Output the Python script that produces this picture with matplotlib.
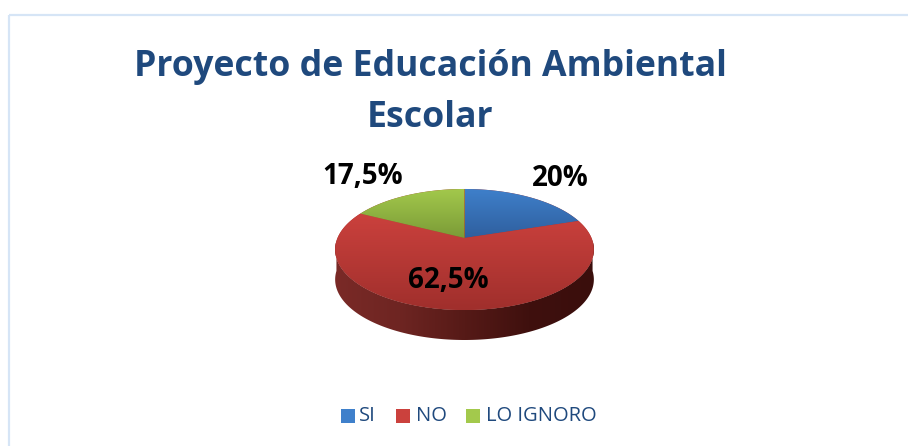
import numpy as np
import matplotlib
matplotlib.use("Agg")
import matplotlib.pyplot as plt
from matplotlib.path import Path
from matplotlib.patches import PathPatch, Rectangle
from matplotlib.colors import LinearSegmentedColormap

categories = ["SI", "NO", "LO IGNORO"]
values = [20.0, 62.5, 17.5]
value_labels = ["20%", "62,5%", "17,5%"]
title_text = "Proyecto de Educación Ambiental\nEscolar"

W, H = 908, 446
fig = plt.figure(figsize=(W / 100, H / 100), dpi=100)
ax = fig.add_axes([0, 0, 1, 1])
ax.set_xlim(0, W)
ax.set_ylim(H, 0)
ax.axis("off")

FONT = ["Open Sans", "DejaVu Sans"]
ax.add_patch(Rectangle((8.5, 14.5), 920, 460, fill=False, ec="#d6e5f6", lw=1.6))

CX, K, A, B, C = 464.5, 127.0, -13.1, 238.0, 0.19
DEPTH = 30


def project(theta):
    u, v = np.sin(theta), np.cos(theta)
    d = 1 + C * v
    return CX + K * u / d, (A * v + B) / d


def fill_gradient(path, colors, horizontal=False):
    vs = path.vertices
    x0, x1, y0, y1 = vs[:, 0].min(), vs[:, 0].max(), vs[:, 1].min(), vs[:, 1].max()
    cmap = LinearSegmentedColormap.from_list("g", colors)
    g = np.linspace(0, 1, 256)
    g = g.reshape(1, -1) if horizontal else g.reshape(-1, 1)
    im = ax.imshow(g, cmap=cmap, extent=(x0, x1, y1, y0), aspect="auto", zorder=2,
                   interpolation="bilinear", vmin=0, vmax=1)
    patch = PathPatch(path, transform=ax.transData, fc="none", ec="none")
    ax.add_patch(patch)
    im.set_clip_path(patch)


# side wall of the front of the pie
th = np.linspace(np.pi / 2 + 0.05, 3 * np.pi / 2 - 0.05, 200)
sx, sy = project(th)
side = np.column_stack([np.r_[sx, sx[::-1]], np.r_[sy, sy[::-1] + DEPTH]])
fill_gradient(Path(np.r_[side, side[:1]], closed=True),
              ["#7a2a27", "#6e2522", "#561a17", "#3f100e", "#3a0e0c"], horizontal=True)

face_colors = {
    "SI": ["#3f80cb", "#2f5f9e"],
    "NO": ["#cb413d", "#a02f2c"],
    "LO IGNORO": ["#a3c94c", "#7b9b37"],
}

# underlay so no white seam shows between the slices
ring_x, ring_y = project(np.linspace(0, 2 * np.pi, 400))
ax.fill(ring_x, ring_y, color="#a8342f", zorder=1.9, lw=0)

fractions = np.cumsum([0] + values) / sum(values) * 2 * np.pi
for name, a0, a1 in zip(categories, fractions[:-1], fractions[1:]):
    t = np.linspace(a0, a1, 200)
    x, y = project(t)
    pts = np.column_stack([np.r_[CX, x, CX], np.r_[B, y, B]])
    fill_gradient(Path(pts, closed=True), face_colors[name])

for text, (lx, ly) in zip(value_labels, [(560.5, 178), (448.5, 280), (362.5, 176)]):
    ax.text(lx, ly, text, ha="center", va="center", fontsize=20, fontweight="bold",
            color="black", family=FONT, zorder=5)

ax.text(430.5, 92.5, title_text, ha="center", va="center", fontsize=25.7, fontweight="bold",
        color="#1f497d", family=FONT, linespacing=1.56, zorder=5)

# legend
lefts = [341, 396, 466]
text_x = [359, 416, 486]
for name, lx, tx in zip(categories, lefts, text_x):
    ax.add_patch(Rectangle((lx, 409), 14, 14, fc=face_colors[name][0], ec="none", zorder=4))
    ax.text(tx, 416, name, ha="left", va="center", fontsize=14.5, color="#1f497d",
            family=FONT, zorder=5)

ax.set_xlim(0, W)
ax.set_ylim(H, 0)
fig.savefig("out.png", dpi=100, facecolor="white")
